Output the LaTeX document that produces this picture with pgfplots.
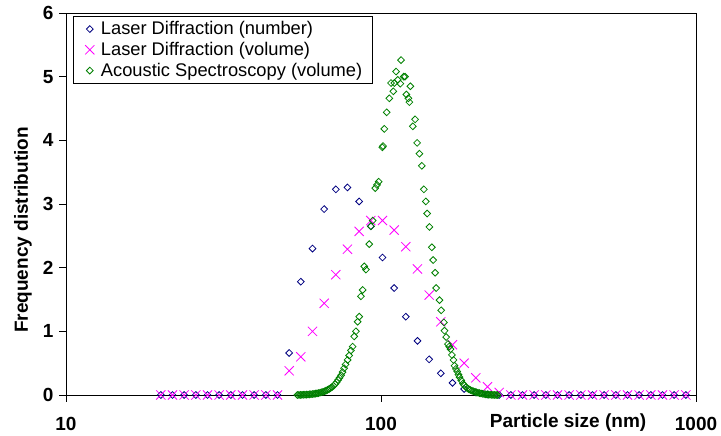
\documentclass[border=0pt]{standalone}
\usepackage{fontspec}
\setmainfont{Liberation Sans}
\usepackage{pgfplots}
\pgfplotsset{compat=1.18}
\definecolor{ldnum}{RGB}{0,0,128}
\definecolor{ldvol}{RGB}{255,0,255}
\definecolor{acvol}{RGB}{0,128,0}
\begin{document}
\begin{tikzpicture}
\useasboundingbox (-66pt,-41pt) rectangle (655pt,395pt);
\begin{axis}[
  at={(0,0)}, anchor=south west,
  scale only axis, width=630pt, height=382pt,
  xmode=log, xmin=10, xmax=1000, ymin=0, ymax=6,
  xtick={10,100,1000}, xticklabels={10,100,1000},
  ytick={0,1,2,3,4,5,6}, yticklabels={0,1,2,3,4,5,6},
  xminorticks=false, yminorticks=false,
  tick pos=left,
  tick align=outside, major tick length=7pt,
  tick style={black, line width=0.8pt},
  axis line style={black, line width=0.9pt},
  ticklabel style={font=\bfseries\fontsize{19}{21}\selectfont},
  xticklabel style={yshift=-12pt},
  yticklabel style={xshift=-2pt},
  label style={font=\bfseries\fontsize{19}{21}\selectfont},
  xlabel={Particle size (nm)},
  xlabel style={at={(axis description cs:0.797,0)}, anchor=center, yshift=-28pt},
  ylabel={Frequency distribution},
  ylabel style={at={(axis description cs:0,0.432)}, anchor=center, yshift=43pt},
  clip=false,
  legend cell align=left,
  legend image code/.code={\path (0pt,0pt) (17pt,0pt); \draw[#1] plot coordinates {(6.3pt,0pt)};},
  legend style={at={(axis description cs:0,1)}, anchor=north west, xshift=6.7pt, yshift=-3.3pt,
    draw=black, line width=0.8pt, font=\fontsize{18.3}{21}\selectfont,
    inner xsep=10pt, inner ysep=4pt, row sep=4pt,
    nodes={inner xsep=0pt, inner ysep=1pt}},
]
\addplot[only marks, mark=square, mark size=2.4pt, mark options={rotate=45, draw=ldnum, line width=0.8pt, fill=none}] coordinates {
(20.00,0)(21.78,0)(23.72,0)(25.83,0)(28.13,0)(30.63,0)(33.36,0)(36.33,0)(39.57,0)(43.09,0)
(46.92,0)(51.10,0.66)(55.65,1.78)(60.61,2.30)(66.00,2.92)(71.88,3.23)(78.27,3.26)(85.24,3.04)
(92.83,2.65)(101.10,2.16)(110.10,1.68)(119.90,1.23)(130.57,0.85)(142.19,0.56)(154.85,0.34)
(168.64,0.19)(183.65,0.095)(200.00,0.04)(217.80,0.01)(237.19,0)(258.31,0)(281.31,0)(306.35,0)
(333.62,0)(363.32,0)(395.66,0)(430.89,0)(469.25,0)(511.02,0)(556.51,0)(606.05,0)(660.01,0)
(718.76,0)(782.75,0)(852.43,0)(928.32,0)
};
\addlegendentry{Laser Diffraction (number)}
\addplot[only marks, mark=x, mark size=6.5pt, mark options={draw=ldvol, line width=0.8pt}] coordinates {
(20.00,0)(21.78,0)(23.72,0)(25.83,0)(28.13,0)(30.63,0)(33.36,0)(36.33,0)(39.57,0)(43.09,0)
(46.92,0)(51.10,0.38)(55.65,0.60)(60.61,1.00)(66.00,1.44)(71.88,1.89)(78.27,2.29)(85.24,2.57)
(92.83,2.74)(101.10,2.74)(110.10,2.59)(119.90,2.33)(130.57,1.98)(142.19,1.57)(154.85,1.15)
(168.64,0.79)(183.65,0.50)(200.00,0.27)(217.80,0.13)(237.19,0.04)(258.31,0)(281.31,0)(306.35,0)
(333.62,0)(363.32,0)(395.66,0)(430.89,0)(469.25,0)(511.02,0)(556.51,0)(606.05,0)(660.01,0)
(718.76,0)(782.75,0)(852.43,0)(928.32,0)
};
\addlegendentry{Laser Diffraction (volume)}
\addplot[only marks, mark=square, mark size=2.4pt, mark options={rotate=45, draw=acvol, line width=0.8pt, fill=none}] coordinates {
(54.29,0.000)(54.89,0.001)(55.50,0.002)(56.11,0.003)(56.73,0.004)(57.36,0.005)(57.99,0.006)
(58.64,0.008)(59.28,0.010)(59.94,0.012)(60.60,0.015)(61.27,0.018)(61.95,0.021)(62.64,0.025)
(63.33,0.030)(64.03,0.036)(64.74,0.043)(65.45,0.050)(66.18,0.058)(66.91,0.068)(67.65,0.080)
(68.40,0.093)(69.15,0.108)(69.92,0.125)(70.69,0.145)(71.47,0.170)(72.26,0.200)(73.06,0.235)
(73.87,0.270)(74.69,0.310)(75.51,0.360)(76.35,0.420)(77.19,0.480)
(78.33,0.55)(79.26,0.62)(80.25,0.70)(81.26,0.76)(82.22,0.92)(83.25,1.00)(84.29,1.15)
(85.29,1.23)(86.36,1.55)(87.44,1.65)(88.47,2.02)(89.58,1.97)(91.77,2.37)(92.93,2.65)
(94.09,2.74)(95.90,3.25)(97.10,3.30)(98.32,3.35)(100.95,3.89)(101.47,3.91)(102.44,4.18)
(104.26,4.44)(106.27,4.66)(107.60,4.90)(109.43,4.77)(110.24,4.90)(111.62,5.08)(113.02,4.95)
(115.20,4.89)(115.79,5.26)(118.11,5.00)(119.24,5.00)(120.38,4.72)(122.16,4.66)(123.06,4.60)
(123.96,4.85)(126.16,4.22)(128.31,4.33)(130.20,3.96)(132.42,3.79)(134.77,3.60)(136.76,3.23)
(138.78,3.04)(140.11,2.85)(142.50,2.64)(145.03,2.32)(146.41,2.12)(148.58,1.92)(149.67,1.68)
(153.34,1.49)(155.26,1.33)(158.36,1.14)(159.06,1.01)(161.06,0.91)(163.08,0.80)(164.64,0.76)
(166.22,0.72)(167.93,0.63)(169.91,0.55)(171.17,0.46)(172.93,0.41)(174.59,0.37)(176.13,0.32)
(177.56,0.28)(179.79,0.23)(182.05,0.18)(184.07,0.15)(186.10,0.125)(188.16,0.105)
(190.24,0.090)(192.35,0.078)(194.47,0.067)(196.62,0.058)(198.80,0.050)(201.00,0.042)
(203.22,0.035)(205.47,0.029)(207.74,0.024)(210.04,0.019)(212.36,0.015)(214.71,0.011)
(217.08,0.008)(219.48,0.006)(221.91,0.004)(224.36,0.003)(226.84,0.002)(229.35,0.001)
(231.89,0.000)(234.45,0.000)
};
\addlegendentry{Acoustic Spectroscopy (volume)}
\end{axis}
\end{tikzpicture}
\end{document}
